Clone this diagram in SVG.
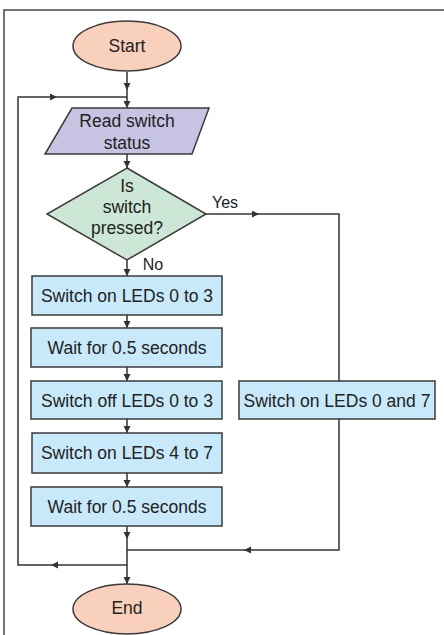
<svg xmlns="http://www.w3.org/2000/svg" width="444" height="635" viewBox="0 0 444 635">
<defs>
<marker id="ah" markerUnits="userSpaceOnUse" markerWidth="8" markerHeight="8" refX="7" refY="3.5" orient="auto">
<path d="M0,0 L7,3.5 L0,7 z" fill="#333"/>
</marker>
<style>
.t{font-family:"Liberation Sans",Arial,sans-serif;font-size:17.5px;fill:#222;text-anchor:middle}
.n{stroke:#3a3a3a;stroke-width:1.5}
.c{fill:none;stroke:#333;stroke-width:1.5}
.a{fill:none;stroke:#333;stroke-width:1.5;marker-end:url(#ah)}
.box{fill:#c8e9f9}
</style>
</defs>
<rect width="444" height="635" fill="#fff"/>
<path d="M4,635 V10 H444" fill="none" stroke="#444" stroke-width="1.5"/>
<g id="connectors">
<path class="a" d="M127,72 V90"/>
<path class="a" d="M127,90 V108"/>
<path class="a" d="M127,154 V168"/>
<path class="a" d="M127,260 V276"/>
<path class="a" d="M127,315 V328"/>
<path class="a" d="M127,367 V381"/>
<path class="a" d="M127,419 V433"/>
<path class="a" d="M127,473 V487"/>
<path class="a" d="M127,526 V539"/>
<path class="a" d="M127,539 V584"/>
<path class="a" d="M206,214 H259"/>
<path class="c" d="M259,214 H339 V381"/>
<path class="a" d="M339,419 V550 H244"/>
<path class="c" d="M244,550 H127"/>
<path class="a" d="M127,565 H51"/>
<path class="a" d="M51,565 H18 V97 H57"/>
<path class="c" d="M57,97 H127"/>
<text class="t" x="225" y="208" style="font-size:16px">Yes</text>
<text class="t" x="153" y="270" style="font-size:16px">No</text>
</g>
<g id="start">
<ellipse class="n" cx="127" cy="46" rx="54" ry="25" fill="#f9d0bb"/>
<text class="t" x="127" y="52">Start</text>
</g>
<g id="read">
<polygon class="n" points="72,108 209,108 192,154 45,154" fill="#c6c4e2"/>
<text class="t" x="127" y="127">Read switch</text>
<text class="t" x="127" y="149">status</text>
</g>
<g id="decision">
<polygon class="n" points="127,168 206,214 127,260 47,214" fill="#cce7d6"/>
<text class="t" x="127" y="192">Is</text>
<text class="t" x="127" y="213">switch</text>
<text class="t" x="127" y="234">pressed?</text>
</g>
<g id="box1">
<rect class="n box" x="32" y="276" width="190" height="39"/>
<text class="t" x="127" y="302">Switch on LEDs 0 to 3</text>
</g>
<g id="box2">
<rect class="n box" x="31" y="328" width="191" height="39"/>
<text class="t" x="127" y="354">Wait for 0.5 seconds</text>
</g>
<g id="box3">
<rect class="n box" x="31" y="381" width="191" height="38"/>
<text class="t" x="127" y="407">Switch off LEDs 0 to 3</text>
</g>
<g id="box4">
<rect class="n box" x="32" y="433" width="190" height="40"/>
<text class="t" x="127" y="459">Switch on LEDs 4 to 7</text>
</g>
<g id="box5">
<rect class="n box" x="31" y="487" width="191" height="39"/>
<text class="t" x="127" y="513">Wait for 0.5 seconds</text>
</g>
<g id="box6">
<rect class="n box" x="239" y="381" width="196" height="38"/>
<text class="t" x="337" y="407">Switch on LEDs 0 and 7</text>
</g>
<g id="end">
<ellipse class="n" cx="127" cy="609" rx="54" ry="25" fill="#f9d0bb"/>
<text class="t" x="127" y="614">End</text>
</g>
</svg>
